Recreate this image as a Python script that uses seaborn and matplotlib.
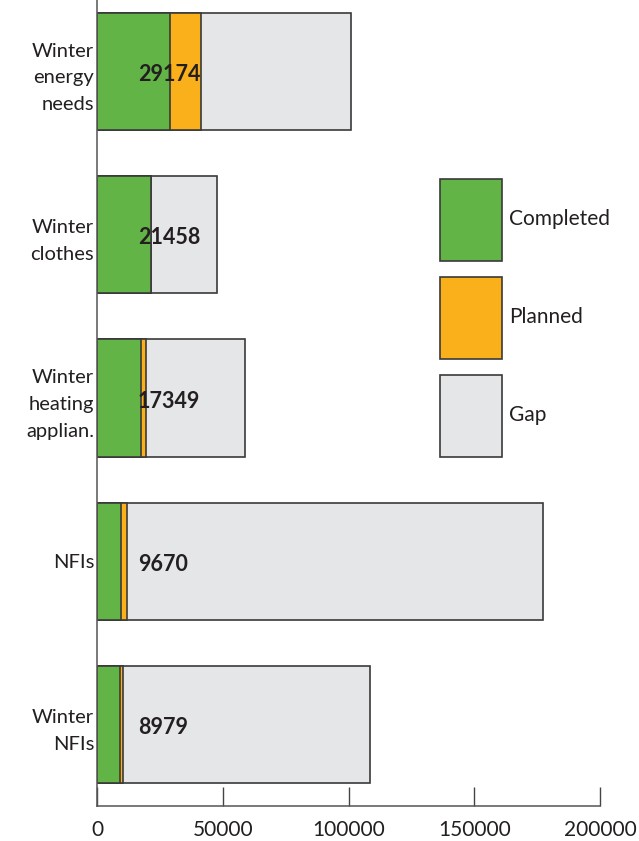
import pandas as pd
import matplotlib.pyplot as plt
import seaborn as sns

# data
categories = ["Winter\nenergy\nneeds", "Winter\nclothes", "Winter\nheating\napplian.", "NFIs", "Winter\nNFIs"]
completed = [29174, 21458, 17349, 9670, 8979]
planned = [12300, 0, 2000, 2200, 1400]
gap = [59500, 26250, 39500, 165400, 98000]
xticks = [0, 50000, 100000, 150000, 200000]

df = pd.DataFrame({"cat": categories, "completed": completed, "planned": planned, "gap": gap})
df["done_plan"] = df["completed"] + df["planned"]
df["total"] = df["done_plan"] + df["gap"]

sns.set_style("white")
plt.rcParams["font.family"] = ["Lato", "DejaVu Sans"]

fig = plt.figure(figsize=(6.39, 8.41), dpi=100)
ax = fig.add_axes([0.1518, 0.0416, 0.7872, 0.9703])

edge = "#3a3a3a"
bw = 0.717
# overlay: total (gap) first, then completed+planned, then completed
sns.barplot(data=df, x="total", y="cat", color="#e5e6e8", edgecolor=edge, linewidth=1.2,
            width=bw, saturation=1, label="Gap", ax=ax)
sns.barplot(data=df, x="done_plan", y="cat", color="#fab01a", edgecolor=edge, linewidth=1.2,
            width=bw, saturation=1, label="Planned", ax=ax)
sns.barplot(data=df, x="completed", y="cat", color="#62b446", edgecolor=edge, linewidth=1.2,
            width=bw, saturation=1, label="Completed", ax=ax)

# bold value labels
for i, v in enumerate(df["completed"]):
    ax.annotate(str(v), xy=(0, i), xytext=(41, -3), textcoords="offset pixels",
                ha="left", va="center", fontsize=15.5, fontweight="bold", color="#231f20")

ax.set_xlim(0, 200000)
ax.set_ylim(4.5, -0.5)
ax.set_xticks(xticks)
ax.set_xticklabels([str(t) for t in xticks])
ax.set_xlabel("")
ax.set_ylabel("")
ax.tick_params(axis="x", bottom=True, direction="in", length=14, width=1, color="#444444", pad=10,
               labelsize=15, labelcolor="#231f20")
ax.tick_params(axis="y", left=False, length=0, pad=2, labelsize=14.5, labelcolor="#231f20")
for lab in ax.get_yticklabels():
    lab.set_linespacing(1.7)
    lab.set_multialignment("right")
sns.despine(ax=ax)
for s in ["left", "bottom"]:
    ax.spines[s].set_color("#555555")
    ax.spines[s].set_linewidth(1.1)

handles, labels = ax.get_legend_handles_labels()
ax.legend(handles[::-1], labels[::-1], loc="upper left", bbox_to_anchor=(440 / 639, 1 - 179 / 841),
          bbox_transform=fig.transFigure, frameon=False, fontsize=15, handlelength=3.0,
          handleheight=5.7, labelspacing=0.75, handletextpad=0.3, borderpad=0, borderaxespad=0,
          labelcolor="#231f20")

fig.savefig("out.png", dpi=100)
